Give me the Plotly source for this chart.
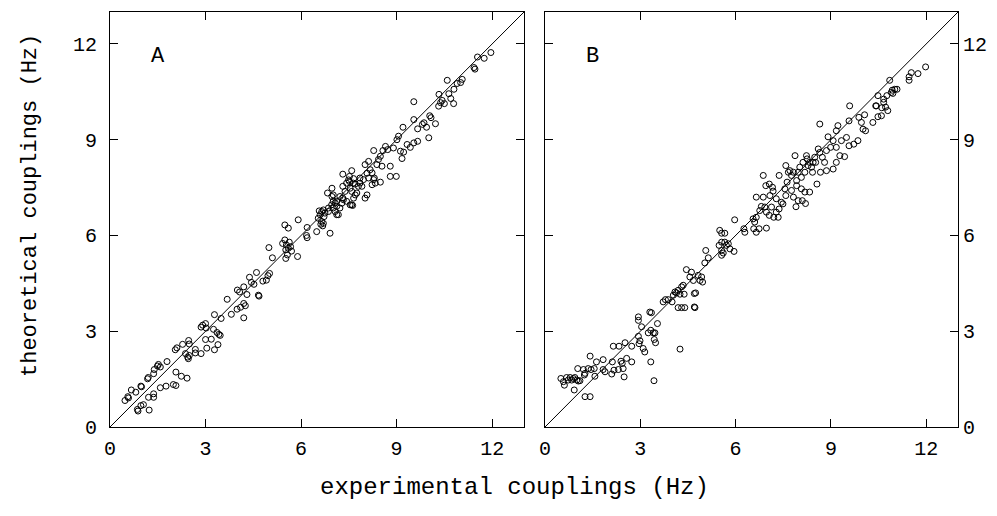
import plotly.graph_objects as go

# ---------------- data ----------------
tick_vals = [0, 3, 6, 9, 12]
tick_text = ["0", "3", "6", "9", "12"]
axis_range = [0, 13]
x_title = "experimental couplings (Hz)"
y_title = "theoretical couplings (Hz)"
panel_labels = ["A", "B"]

# Panel A: (experimental, theoretical)
a_pts = [
    (0.47,0.83),(0.58,0.91),(0.56,0.95),(0.67,1.16),(0.81,1.09),(0.97,1.28),(0.99,1.26),(1.18,1.51),(1.20,1.55),
    (1.37,1.67),(1.39,1.80),(1.49,1.91),(1.52,1.96),(1.58,1.88),(1.79,2.05),(2.05,2.42),(2.10,2.48),(2.28,2.59),
    (2.47,2.71),(2.49,2.60),(0.86,0.55),(0.88,0.50),(0.97,0.67),(1.05,0.70),(1.21,0.93),(1.23,0.53),(1.37,1.04),
    (1.37,0.93),(1.58,1.23),(1.76,1.28),(1.99,1.33),(2.07,1.30),(2.07,1.72),(2.24,1.59),(2.42,1.53),(2.37,2.30),
    (2.44,2.19),(2.46,2.14),(2.49,2.24),(2.68,2.43),(2.68,2.32),(2.86,2.30),(2.86,3.13),(2.91,3.19),(3.00,3.24),
    (3.02,3.10),(3.00,2.74),(3.04,2.47),(3.18,2.75),(3.25,3.06),(3.28,2.42),(3.36,2.96),(3.42,2.90),(3.46,2.87),
    (3.39,2.58),(3.49,3.40),(3.28,3.52),(3.68,4.00),(3.81,3.53),(3.99,3.69),(4.00,4.29),(4.07,4.23),(4.20,3.87),
    (4.20,3.42),(4.10,3.75),(4.25,3.80),
    (4.20,4.39),(4.30,4.15),(4.38,4.69),(4.44,4.53),(4.52,4.47),(4.60,4.84),(4.66,4.13),(4.68,4.10),(4.80,4.57),
    (4.91,4.60),(4.96,4.74),(5.01,4.81),(4.99,5.62),(5.10,5.30),(5.42,5.75),(5.49,5.86),(5.54,5.70),(5.60,5.60),
    (5.63,5.79),(5.67,5.65),(5.52,5.55),(5.57,5.39),(5.52,5.28),(5.70,5.51),(5.89,5.34),(5.49,6.33),(5.60,6.23),
    (5.91,6.49),(6.19,6.25),(6.17,6.00),(6.19,5.93),(6.49,6.12),(6.54,6.54),(6.57,6.77),(6.64,6.44),(6.70,6.38),
    (6.72,6.59),(6.91,6.07),(6.83,7.33),(6.97,7.48),(7.01,6.86),(7.12,6.65),(7.12,7.07),(7.22,7.22),(7.33,7.12),
    (7.43,7.07),(7.59,6.96),(7.31,7.54),(7.52,7.69),(7.64,7.64),(7.75,7.33),(6.97,7.22),(7.07,7.02),(6.86,6.75),
    (6.60,6.65),(6.65,6.75),(6.70,6.80),(6.75,6.70),(6.62,6.35),(6.68,6.30),(6.86,6.86),(6.96,6.96),(7.01,7.07),
    (7.01,7.27),(7.07,6.75),(7.12,6.91),(7.17,6.65),(7.22,6.86),(7.28,7.01),(7.31,7.17),(7.38,7.38),(7.43,7.64),
    (7.49,7.74),(7.54,7.48),(7.59,7.38),(7.65,7.17),(7.70,7.27),(7.80,7.54),(7.85,7.64),(7.54,6.96),(7.62,6.94),
    (8.01,7.17),(8.07,7.27),(7.85,7.80),(8.23,7.59),(8.28,7.75),(8.33,7.64),(8.49,7.67),(8.07,7.95),(8.12,7.80),
    (7.31,7.92),(7.52,7.85),(7.59,8.03),(7.65,7.78),(7.70,7.61),(7.91,7.54),(7.96,7.75),(8.01,8.22),(8.12,8.32),
    (8.17,8.06),(8.23,7.96),(8.30,7.80),(8.28,8.66),(8.38,8.22),(8.43,8.38),(8.49,8.48),(8.54,8.17),(8.57,8.66),
    (8.65,8.79),(8.72,8.69),(8.80,8.17),(8.80,7.85),(8.99,7.85),(8.90,8.74),(9.01,9.00),(9.06,9.11),(9.12,8.64),
    (9.17,8.41),(9.22,8.61),(9.33,8.85),(9.43,8.76),(9.54,8.90),(9.66,8.95),(9.20,9.39),(9.54,9.63),(9.66,9.34),
    (9.81,9.48),(9.86,9.53),(9.94,9.39),(10.01,9.06),(10.04,9.75),(10.08,9.69),(10.22,9.50),(9.54,10.19),
    (10.32,10.05),(10.38,10.16),(10.43,10.23),(10.50,10.13),(10.79,10.13),
    (11.54,11.59),(11.75,11.55),(11.96,11.73),(11.43,11.26),(11.46,11.21),(11.06,10.89),(11.01,10.79),
    (10.90,10.76),(10.80,10.58),(10.59,10.86),(10.64,10.44),(10.33,10.42),(10.70,10.29),
]

# Panel B: (experimental, theoretical)
b_pts = [
    (0.50,1.52),(0.58,1.42),(0.61,1.31),(0.68,1.55),(0.73,1.47),(0.79,1.55),(0.84,1.47),(0.89,1.52),(0.94,1.55),
    (1.00,1.47),(1.05,1.44),(1.10,1.45),(0.92,1.16),(1.03,1.83),(1.21,1.80),(1.24,1.63),(1.26,1.68),(1.36,1.83),
    (1.42,2.22),(1.45,1.80),(1.55,1.83),(1.57,1.59),(1.62,2.04),(1.83,2.11),(1.83,1.80),(1.89,1.73),(1.26,0.95),
    (1.42,0.95),(2.10,1.66),(2.12,2.04),(2.17,1.78),(2.15,2.53),(2.31,1.80),(2.33,2.53),(2.39,2.06),(2.46,1.83),
    (2.49,1.57),(2.52,2.64),(2.43,1.99),(2.57,2.15),(2.73,2.53),(2.73,2.04),(2.94,3.45),(2.94,3.34),(2.94,2.84),
    (2.99,2.70),(2.96,2.61),(3.04,3.14),(3.09,2.46),(3.14,2.35),(3.30,3.60),(3.35,3.58),(3.25,2.95),(3.33,3.03),
    (3.41,2.95),(3.46,2.95),(3.44,2.74),(3.48,2.64),(3.33,2.04),(3.43,1.45),(3.54,3.24),(3.72,3.92),(3.79,3.99),
    (3.88,3.99),(4.00,3.92),(4.04,4.13),(4.09,4.23),(4.14,4.20),(4.19,4.28),(4.25,4.16),(4.30,4.39),(4.35,4.44),
    (4.38,4.16),(4.19,3.74),(4.30,3.74),(4.40,3.74),(4.25,2.44),(4.70,4.18),(4.70,3.76),
    (4.45,4.93),(4.61,4.85),(4.56,4.70),(4.67,4.59),(4.82,4.75),(4.93,4.70),(4.88,4.59),(4.96,4.54),(4.74,4.20),
    (4.72,3.74),(5.03,5.14),(5.06,5.53),(5.14,5.30),(5.50,6.16),(5.56,6.07),(5.66,6.07),(5.48,5.69),(5.56,5.79),
    (5.66,5.79),(5.71,5.69),(5.77,5.74),(5.56,5.53),(5.61,5.45),(5.82,5.58),(5.56,5.38),(5.95,5.50),(5.97,6.49),
    (6.29,6.10),(6.26,6.21),(6.55,6.52),(6.60,6.42),(6.65,6.57),(6.57,6.21),(6.65,6.10),(6.74,6.21),(6.97,6.23),
    (6.65,7.20),(6.76,6.78),(6.81,6.91),(6.87,7.20),(6.92,6.89),(6.97,6.73),(7.06,6.63),(7.08,7.25),(7.13,6.89),
    (7.20,6.57),(7.28,6.73),(7.34,6.57),(7.37,6.83),(6.95,7.56),(7.06,7.61),(7.16,7.51),(7.18,7.39),(7.28,7.15),
    (7.44,7.04),(7.49,6.99),(7.55,7.46),(7.58,7.25),(7.62,7.67),
    (7.82,7.20),(7.97,7.09),(8.10,7.09),(8.07,7.46),(8.18,7.36),(8.33,7.36),(7.92,7.56),(7.76,7.41),(8.20,7.00),
    (7.90,6.90),
    (6.87,7.88),(7.37,7.88),(7.58,8.19),(7.66,7.98),(7.71,8.03),(7.76,7.88),(7.82,7.98),(7.87,8.50),(7.92,7.72),
    (7.97,7.98),(8.02,8.14),(8.07,7.82),(8.12,8.29),(8.18,7.98),(8.23,8.50),(8.25,8.40),(8.28,8.19),(8.33,8.29),
    (8.39,8.14),(8.42,7.98),(8.44,8.29),(8.49,8.45),(8.52,8.29),(8.56,7.61),(8.60,8.71),(8.65,8.60),(8.67,7.98),
    (8.73,8.45),(8.80,8.29),(8.86,8.03),(8.86,8.66),(8.91,9.09),(8.99,8.76),(9.07,8.08),(9.07,8.97),(9.17,8.76),
    (9.17,9.28),(9.22,9.44),(9.17,8.29),(9.28,8.50),(9.33,8.97),(9.43,8.47),(9.49,9.07),(9.57,8.81),(9.57,9.59),
    (8.65,9.49),(9.72,8.86),(9.85,8.97),(9.88,9.70),(9.96,9.54),(10.01,9.33),(10.09,9.28),(10.06,9.78),
    (9.59,10.06),(10.32,9.54),(10.43,10.06),(10.48,9.72),(10.59,9.75),(10.66,10.17),(10.79,9.91),
    (11.98,11.28),(11.74,11.07),(11.53,11.10),(11.46,10.97),(11.46,10.86),(10.85,10.86),(10.93,10.55),
    (11.01,10.58),(11.08,10.58),(10.90,10.48),(10.95,10.45),(10.76,10.38),(10.66,10.27),(10.48,10.38),
    (10.41,10.06),(10.60,10.00),(10.72,10.02),
]

a_exp = [p[0] for p in a_pts]
a_theo = [p[1] for p in a_pts]
b_exp = [p[0] for p in b_pts]
b_theo = [p[1] for p in b_pts]

# ---------------- figure ----------------
W, H = 997, 516
OFF = 8  # page body margin offset in the browser
FONT = "Liberation Mono, Courier New, monospace"


def px_x(p):
    return (p - OFF) / W


def px_y(p):
    return 1 - (p - OFF) / H


fig = go.Figure()
marker = dict(symbol="circle-open", size=6, color="black", line=dict(width=1, color="black"))

for xs, ys, xa, ya in [(a_exp, a_theo, "x", "y"), (b_exp, b_theo, "x2", "y2")]:
    fig.add_trace(go.Scatter(x=axis_range, y=axis_range, mode="lines",
                             line=dict(color="black", width=1), xaxis=xa, yaxis=ya,
                             showlegend=False, hoverinfo="skip"))
    fig.add_trace(go.Scatter(x=xs, y=ys, mode="markers", marker=marker,
                             xaxis=xa, yaxis=ya, showlegend=False))

ydom = [px_y(427), px_y(12)]
axis_common = dict(range=axis_range, tickvals=tick_vals, ticktext=tick_text,
                   ticks="inside", ticklen=8, tickwidth=1, tickcolor="black",
                   showline=True, linewidth=1, linecolor="black", mirror="ticks",
                   showgrid=False, zeroline=False, automargin=False,
                   tickfont=dict(family=FONT, size=20, color="black"))

fig.update_layout(
    width=W, height=H,
    margin=dict(l=0, r=0, t=0, b=0, autoexpand=False),
    paper_bgcolor="white", plot_bgcolor="white",
    xaxis=dict(domain=[px_x(110), px_x(524)], anchor="y", ticklabelstandoff=3, **axis_common),
    yaxis=dict(domain=ydom, anchor="x", ticklabelstandoff=8, **axis_common),
    xaxis2=dict(domain=[px_x(545), px_x(958)], anchor="y2", ticklabelstandoff=3, **axis_common),
    yaxis2=dict(domain=ydom, anchor="x2", side="right", ticklabelstandoff=0, **axis_common),
    annotations=[
        dict(text=x_title, xref="paper", yref="paper", x=px_x(514), y=px_y(487),
             showarrow=False, xanchor="center", yanchor="middle",
             font=dict(family=FONT, size=24, color="black")),
        dict(text=y_title, xref="paper", yref="paper", x=px_x(30), y=px_y(206),
             showarrow=False, xanchor="center", yanchor="middle", textangle=-90,
             font=dict(family=FONT, size=22, color="black")),
        dict(text=panel_labels[0], xref="x", yref="y", x=1.5, y=11.6, showarrow=False,
             font=dict(family=FONT, size=22, color="black")),
        dict(text=panel_labels[1], xref="x2", yref="y2", x=1.5, y=11.6, showarrow=False,
             font=dict(family=FONT, size=22, color="black")),
    ],
)

fig.write_html("out.html")
